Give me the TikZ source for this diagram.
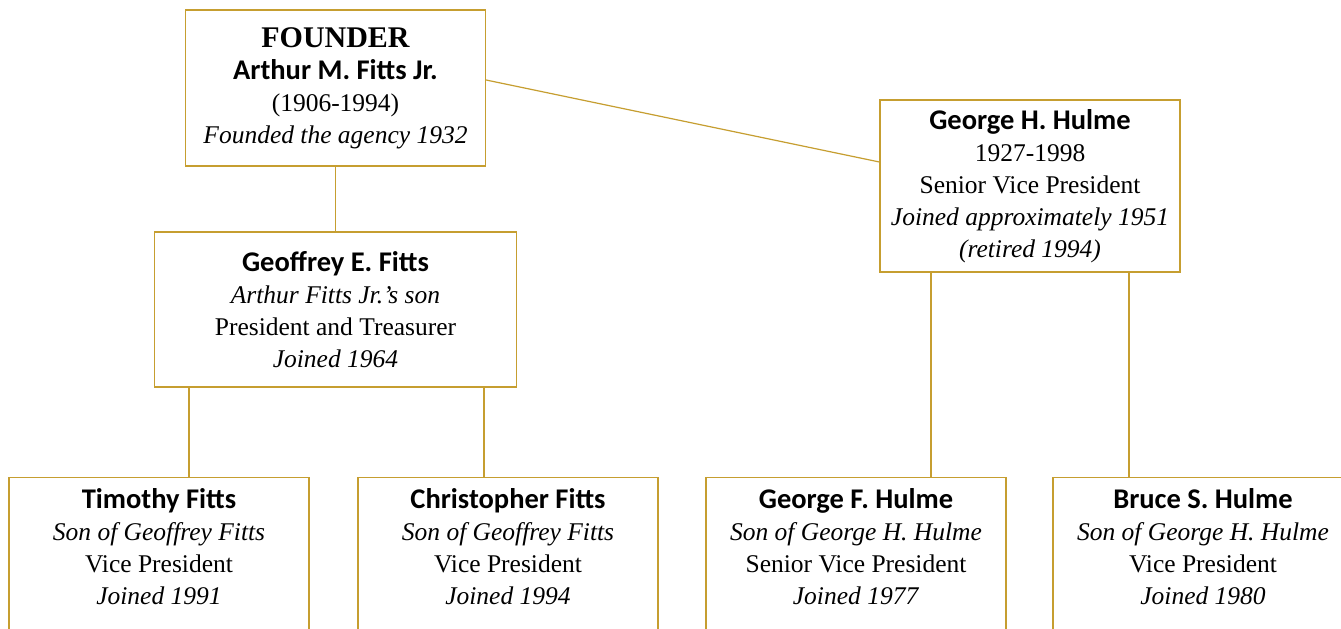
\documentclass[tikz,border=0pt]{standalone}
\usepackage{fontspec}
\setmainfont{Liberation Serif}
\setsansfont{Carlito}
\definecolor{gold}{RGB}{198,158,48}
\tikzset{
  box/.style={draw=gold, line width=1.2pt, align=center, inner sep=0pt,
    font=\fontsize{25.5}{32}\selectfont},
  kid/.style={box, anchor=north, minimum width=300pt, inner ysep=11pt, text depth=150pt},
  link/.style={draw=gold, line width=1.2pt},
}
\newcommand{\who}[1]{{\sffamily\bfseries\fontsize{28.5}{32}\selectfont #1}}

\begin{document}
\begin{tikzpicture}[x=1pt,y=-1pt]
\clip (0,0) rectangle (1341,629);
\path [fill=white] (0,0) rectangle (1341,629);
\node [box, minimum width=300pt, minimum height=156pt] (founder) at (335.5,88)
  {{\bfseries\fontsize{30}{32}\selectfont FOUNDER}\\\who{Arthur M. Fitts Jr.}\\(1906-1994)\\\textit{Founded the agency 1932}};
\node [box, minimum width=362pt, minimum height=155pt] (geoffrey) at (335.5,309.5)
  {\who{Geoffrey E. Fitts}\\\textit{Arthur Fitts Jr.'s son}\\President and Treasurer\\\textit{Joined 1964}};
\node [box, minimum width=300pt, minimum height=172pt] (hulme) at (1030,186)
  {\who{George H. Hulme}\\1927-1998\\Senior Vice President\\\textit{Joined approximately 1951}\\\textit{(retired 1994)}};
\node [kid] (timothy) at (159,477)
  {\who{Timothy Fitts}\\\textit{Son of Geoffrey Fitts}\\Vice President\\\textit{Joined 1991}};
\node [kid] (christopher) at (508,477)
  {\who{Christopher Fitts}\\\textit{Son of Geoffrey Fitts}\\Vice President\\\textit{Joined 1994}};
\node [kid] (georgef) at (856,477)
  {\who{George F. Hulme}\\\textit{Son of George H. Hulme}\\Senior Vice President\\\textit{Joined 1977}};
\node [kid] (bruce) at (1203,477)
  {\who{Bruce S. Hulme}\\\textit{Son of George H. Hulme}\\Vice President\\\textit{Joined 1980}};
\path [link] (founder.south) -- (geoffrey.north);
\path [link] ([yshift=8pt]founder.east) -- ([yshift=24pt]hulme.west);
\path [link] ([xshift=30pt]timothy.north) -- ([xshift=30pt]timothy.north |- geoffrey.south);
\path [link] ([xshift=-24pt]christopher.north) -- ([xshift=-24pt]christopher.north |- geoffrey.south);
\path [link] ([xshift=75pt]georgef.north) -- ([xshift=75pt]georgef.north |- hulme.south);
\path [link] ([xshift=-74pt]bruce.north) -- ([xshift=-74pt]bruce.north |- hulme.south);
\end{tikzpicture}
\end{document}
